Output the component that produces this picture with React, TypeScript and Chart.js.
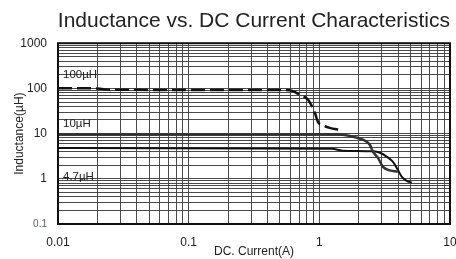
import React, { useEffect, useRef } from 'react';
import { Chart, registerables } from 'chart.js';

Chart.register(...registerables);

const FONT = '"Liberation Sans", Arial, Helvetica, sans-serif';

const seriesNames = ['100µH', '10µH', '4.7µH'];

const current100 = [0.01, 0.02, 0.025, 0.55, 0.62, 0.71, 0.82, 0.89, 0.925, 0.975, 1.05, 1.2, 1.44];
const inductance100 = [101, 100, 93, 92, 88, 72, 56, 37, 29, 18.2, 15.6, 13.4, 12.1];

const current10 = [0.01, 1.2, 1.52, 1.94, 2.31, 2.44, 2.57, 2.81, 3.07, 3.35, 3.99];
const inductance10 = [9.7, 9.7, 9.4, 8.1, 6.6, 5.6, 4.0, 2.9, 1.84, 1.58, 1.43];

const current47 = [0.01, 1.25, 1.5, 2.57, 2.91, 3.29, 3.66, 3.99, 4.28, 4.68, 5.1];
const inductance47 = [4.8, 4.6, 4.2, 4.05, 3.76, 3.06, 2.37, 1.58, 1.1, 0.9, 0.82];

const xDecades = [0.01, 0.1, 1, 10];
const xTickLabels = ['0.01', '0.1', '1', '10'];
const yDecades = [0.1, 1, 10, 100, 1000];
const yTickLabels = ['0.1', '1', '10', '100', '1000'];

const titleText = 'Inductance vs. DC Current Characteristics';
const xTitle = 'DC. Current(A)';
const yTitle = 'Inductance(µH)';

function logTicks(decades: number[]) {
  const out: { value: number }[] = [];
  for (let i = 0; i < decades.length; i++) {
    const d = decades[i];
    if (i === decades.length - 1) {
      out.push({ value: d });
      break;
    }
    for (let m = 1; m <= 9; m++) out.push({ value: +(d * m).toPrecision(6) });
  }
  return out;
}

function decadeLabel(v: number, decades: number[], labels: string[]) {
  for (let i = 0; i < decades.length; i++) {
    if (Math.abs(Math.log10(v) - Math.log10(decades[i])) < 1e-6) return labels[i];
  }
  return '';
}

function toPoints(xs: number[], ys: number[]) {
  return xs.map((x, i) => ({ x, y: ys[i] }));
}

const labelAnchors = [100, 10, 1];
const labelOffsets = [-14, -10, -2];

const annotationPlugin = {
  id: 'seriesLabelsAndFrame',
  afterDatasetsDraw(chart: any) {
    const { ctx, scales, chartArea } = chart;
    const xs = scales.x;
    const ys = scales.y;
    ctx.save();
    ctx.font = '11.5px ' + FONT;
    ctx.fillStyle = '#222';
    ctx.textBaseline = 'middle';
    ctx.textAlign = 'left';
    seriesNames.forEach((name, i) => {
      const px = xs.getPixelForValue(xDecades[0]) + 5;
      const py = ys.getPixelForValue(labelAnchors[i]) + labelOffsets[i];
      ctx.fillText(name, px, py);
    });
    ctx.strokeStyle = '#111';
    ctx.lineWidth = 2;
    ctx.strokeRect(chartArea.left, chartArea.top, chartArea.right - chartArea.left, chartArea.bottom - chartArea.top);
    ctx.restore();
  },
};

export default function App() {
  const ref = useRef<HTMLCanvasElement | null>(null);

  useEffect(() => {
    if (!ref.current) return;
    const chart = new Chart(ref.current, {
      type: 'line',
      data: {
        datasets: [
          {
            label: seriesNames[0],
            data: toPoints(current100, inductance100),
            borderColor: '#111',
            borderWidth: 2.5,
            borderDash: [14, 5],
            pointRadius: 0,
            fill: false,
            cubicInterpolationMode: 'monotone',
          },
          {
            label: seriesNames[1],
            data: toPoints(current10, inductance10),
            borderColor: '#333',
            borderWidth: 2.5,
            pointRadius: 0,
            fill: false,
            cubicInterpolationMode: 'monotone',
          },
          {
            label: seriesNames[2],
            data: toPoints(current47, inductance47),
            borderColor: '#111',
            borderWidth: 2,
            pointRadius: 0,
            fill: false,
            cubicInterpolationMode: 'monotone',
          },
        ],
      },
      options: {
        responsive: false,
        animation: false,
        devicePixelRatio: 1,
        parsing: false as any,
        layout: { padding: { left: 0, right: 6, top: 0, bottom: 0 } },
        plugins: {
          legend: { display: false },
          tooltip: { enabled: false },
          title: {
            display: true,
            text: titleText,
            align: 'end',
            color: '#222',
            font: { size: 21, family: FONT, weight: 'normal' as any },
            padding: { top: 9, bottom: 9 },
          },
        },
        scales: {
          x: {
            type: 'logarithmic',
            min: 0.01,
            max: 10,
            afterBuildTicks: (s: any) => {
              s.ticks = logTicks(xDecades);
            },
            afterFit: (s: any) => {
              s.height = 35;
              s.paddingLeft = 0;
              s.paddingRight = 0;
            },
            grid: { color: '#4a4a4a', lineWidth: 1, drawTicks: false },
            border: { display: false },
            ticks: {
              autoSkip: false,
              maxRotation: 0,
              minRotation: 0,
              padding: 11,
              color: '#222',
              font: { size: 12, family: FONT },
              callback: (v: any) => decadeLabel(Number(v), xDecades, xTickLabels),
            },
            title: {
              display: true,
              text: xTitle,
              color: '#222',
              font: { size: 12, family: FONT },
              padding: 0,
            },
          },
          y: {
            type: 'logarithmic',
            min: 0.1,
            max: 1000,
            afterBuildTicks: (s: any) => {
              s.ticks = logTicks(yDecades);
            },
            afterFit: (s: any) => {
              s.width = 58;
              s.paddingTop = 0;
              s.paddingBottom = 0;
            },
            grid: { color: '#4a4a4a', lineWidth: 1, drawTicks: false },
            border: { display: false },
            ticks: {
              autoSkip: false,
              padding: 11,
              color: (c: any) => (c.tick && Math.abs(c.tick.value - 0.1) < 1e-9 ? '#5a6478' : '#222'),
              font: (c: any) =>
                c.tick && Math.abs(c.tick.value - 0.1) < 1e-9
                  ? { size: 10, family: FONT }
                  : { size: 12, family: FONT },
              callback: (v: any) => decadeLabel(Number(v), yDecades, yTickLabels),
            },
            title: {
              display: true,
              text: yTitle,
              color: '#222',
              font: { size: 12, family: FONT },
              padding: { top: 12, bottom: 0 },
            },
          },
        },
      } as any,
      plugins: [annotationPlugin],
    });
    return () => chart.destroy();
  }, []);

  return (
    <div style={{ position: 'absolute', left: 0, top: 0, width: 456, height: 259, background: '#fff' }}>
      <canvas ref={ref} width={456} height={259} style={{ display: 'block' }} />
    </div>
  );
}
